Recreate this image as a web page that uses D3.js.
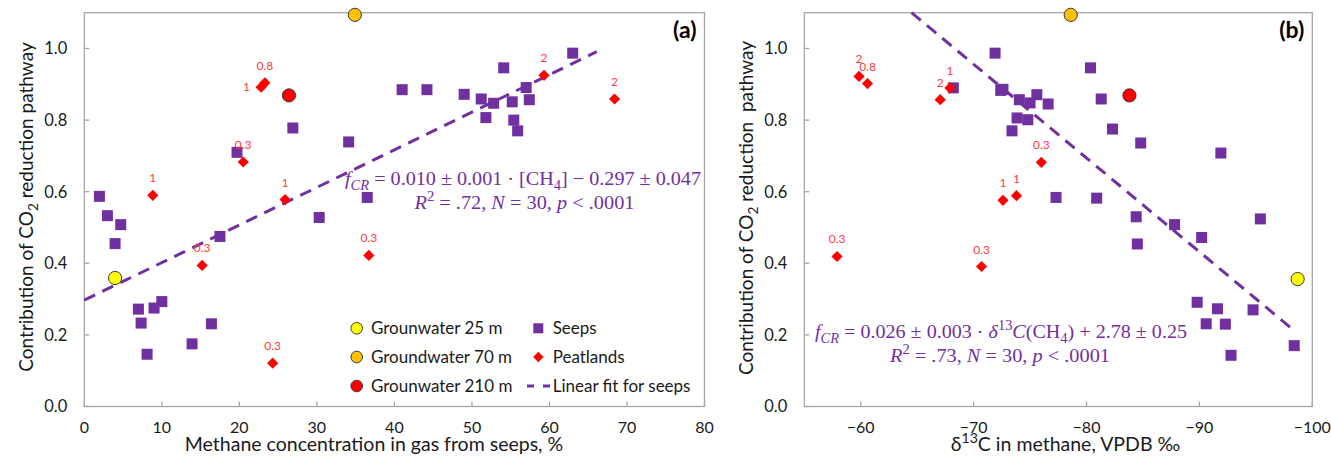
<!DOCTYPE html>
<html><head><meta charset="utf-8">
<script src="https://cdn.jsdelivr.net/npm/d3@7"></script>
<style>body{margin:0;background:#fff}svg{display:block}</style>
</head><body>
<svg id="chart" width="1331" height="458"></svg>
<script>
// ---------- DATA ----------
// Panel (a): methane concentration (%) vs fCR
const seepsConc = [1.95,2.98,4.7,3.97,6.98,9.0,10.0,7.33,8.1,13.9,16.4,17.5,19.7,26.9,30.3,34.1,36.5,41.0,44.2,49.0,51.2,51.8,52.8,54.1,55.2,55.4,55.9,57.0,57.4,63.0];
const seepsFcrA = [0.587,0.533,0.508,0.455,0.272,0.275,0.293,0.233,0.146,0.175,0.231,0.475,0.710,0.778,0.528,0.739,0.584,0.885,0.885,0.872,0.859,0.807,0.847,0.946,0.851,0.800,0.770,0.891,0.857,0.987];
const peatConc = [8.84,15.2,20.5,22.8,23.3,24.3,25.9,36.7,59.3,68.4];
const peatFcrA = [0.590,0.394,0.683,0.892,0.904,0.121,0.578,0.422,0.925,0.859];
const peatLabelsA = ["1","0.3","0.3","1","0.8","0.3","1","0.3","2","2"];
const peatLabelSideA = ["top","top","top","left","top","top","top","top","top","top"];
const gwNames = ["Grounwater 25 m","Groundwater 70 m","Grounwater 210 m"];
const gwColors = ["#FFFF00","#FFC000","#FF0000"];
const gwConc = [3.97,34.9,26.4];
const gwFcrA = [0.359,1.094,0.869];
const fitA = {slope:0.0105, intercept:0.297, from:0, to:66.1};

// Panel (b): δ13C of methane vs fCR
const seepsD13C = [-68.2,-71.9,-72.4,-72.6,-74.05,-75.0,-75.6,-76.6,-73.85,-74.8,-73.4,-80.35,-81.3,-82.3,-84.8,-91.9,-77.3,-80.9,-84.4,-87.8,-95.4,-84.5,-90.2,-89.8,-91.6,-94.75,-90.6,-92.3,-98.4,-92.8];
const seepsFcrB = [0.890,0.987,0.883,0.886,0.857,0.848,0.871,0.845,0.806,0.801,0.770,0.946,0.859,0.775,0.736,0.708,0.584,0.582,0.530,0.508,0.524,0.454,0.472,0.291,0.273,0.270,0.231,0.230,0.170,0.143];
const peatD13C = [-59.85,-60.6,-67.04,-67.9,-72.6,-73.8,-76.0,-57.9,-70.7];
const peatFcrB = [0.922,0.902,0.857,0.890,0.576,0.589,0.682,0.419,0.391];
const peatLabelsB = ["2","0.8","2","1","1","1","0.3","0.3","0.3"];
const gwD13C = [-98.7,-78.6,-83.8];
const gwFcrB = [0.356,1.094,0.869];
const fitB = {slope:0.0262, intercept:2.79, from:-64.5, to:-98.2};

const xTicksA = [0,10,20,30,40,50,60,70,80];
const xTicksB = [-60,-70,-80,-90,-100];
const yTicks = [0,0.2,0.4,0.6,0.8,1.0];

// ---------- STYLE ----------
const PURPLE = "#7030A0", RED = "#FF0000", LABELRED = "#FF3B3B";
const AXIS = "#A6A6A6", TXT = "#1a1a1a";
const SANS = "Lato, 'Open Sans', sans-serif";
const SERIF = "'Liberation Serif', 'DejaVu Serif', serif";

const svg = d3.select("#chart");
const plotTop = 12.7, plotBottom = 406.5;
const y = d3.scaleLinear().domain([0,1.1]).range([plotBottom, plotTop]);

const fmtNum = v => (v<0 ? "\u2212" + Math.abs(v) : String(v));

function rich(sel, segs, base) {
  let cur = 0;
  segs.forEach(s => {
    const target = s.sub ? base*0.28 : s.sup ? -base*0.4 : 0;
    const ts = sel.append("tspan").text(s.t).attr("dy", target - cur);
    if (s.sub || s.sup) ts.attr("font-size", base*0.72);
    if (s.it) ts.attr("font-style", "italic");
    cur = target;
  });
}

function diamond(g, cx, cy, r) {
  return g.append("path").attr("d", `M${cx},${cy-r}L${cx+r},${cy}L${cx},${cy+r}L${cx-r},${cy}Z`);
}

function panel(opt) {
  const g = svg.append("g");
  const x = d3.scaleLinear().domain(opt.xDomain).range([opt.left, opt.right]);
  g.append("rect").attr("x", opt.left).attr("y", plotTop).attr("width", opt.right-opt.left).attr("height", plotBottom-plotTop)
    .attr("fill","none").attr("stroke",AXIS).attr("stroke-width",1.3);
  const xa = g.append("g");
  opt.xTicks.forEach(t => {
    xa.append("line").attr("x1",x(t)).attr("x2",x(t)).attr("y1",plotBottom).attr("y2",plotBottom-5).attr("stroke",AXIS).attr("stroke-width",1.3);
    xa.append("text").attr("x",x(t)).attr("y",433).attr("text-anchor","middle")
      .attr("font-family",SANS).attr("font-size",16).attr("fill",TXT).text(fmtNum(t));
  });
  yTicks.forEach(t => {
    g.append("line").attr("x1",opt.left).attr("x2",opt.left+5).attr("y1",y(t)).attr("y2",y(t)).attr("stroke",AXIS).attr("stroke-width",1.3);
    g.append("text").attr("x",opt.left-17).attr("y",y(t)).attr("dy","0.36em").attr("text-anchor","end")
      .attr("font-family",SANS).attr("font-size",16.5).attr("fill",TXT).text(t.toFixed(1));
  });
  const yt = g.append("text").attr("transform",`translate(${opt.yTitleX},${opt.yTitleY}) rotate(-90)`)
    .attr("text-anchor","middle").attr("font-family",SANS).attr("font-size",19).attr("fill",TXT).attr("xml:space","preserve");
  rich(yt, [{t:"Contribution of CO"},{t:"2",sub:true},{t:opt.yTitleTail}], 19);
  const xt = g.append("text").attr("x",opt.xTitleX).attr("y",451).attr("text-anchor","middle")
    .attr("font-family",SANS).attr("font-size",19.5).attr("fill",TXT);
  rich(xt, opt.xTitle, 19.5);
  g.append("text").attr("x",opt.right-8).attr("y",38).attr("text-anchor","end")
    .attr("font-family",SANS).attr("font-weight","bold").attr("font-size",23).attr("fill","#000").text(opt.letter);
  g.append("line").attr("x1",x(opt.fit.from)).attr("y1",y(opt.fit.intercept+opt.fit.slope*opt.fit.from))
    .attr("x2",x(opt.fit.to)).attr("y2",y(opt.fit.intercept+opt.fit.slope*opt.fit.to))
    .attr("stroke",PURPLE).attr("stroke-width",3).attr("stroke-dasharray","12,8");
  opt.seepsX.forEach((v,i) => {
    g.append("rect").attr("x",x(v)-5.5).attr("y",y(opt.seepsY[i])-5.5).attr("width",11).attr("height",11).attr("fill",PURPLE);
  });
  opt.peatX.forEach((v,i) => {
    const cx = x(v), cy = y(opt.peatY[i]);
    diamond(g, cx, cy, 5.6).attr("fill",RED);
    const side = opt.peatSide ? opt.peatSide[i] : "top";
    g.append("text").attr("x", side==="left" ? cx-11 : cx).attr("y", side==="left" ? cy+4 : cy-13)
      .attr("text-anchor", side==="left" ? "end" : "middle")
      .attr("font-family",SANS).attr("font-size",12).attr("fill",LABELRED).text(opt.peatLabels[i]);
  });
  opt.gwX.forEach((v,i) => {
    g.append("circle").attr("cx",x(v)).attr("cy",y(opt.gwY[i])).attr("r",6.6)
      .attr("fill",gwColors[i]).attr("stroke","#3a3a3a").attr("stroke-width",1);
  });
  opt.eq.forEach((line,k) => {
    const t = g.append("text").attr("x",opt.eqX[k]).attr("y",opt.eqY[k]).attr("text-anchor","middle")
      .attr("font-family",SERIF).attr("font-size",19).attr("fill",PURPLE).attr("xml:space","preserve")
      .attr("textLength",opt.eqLen[k]).attr("lengthAdjust","spacingAndGlyphs");
    rich(t, line, 19);
  });
  return {g, x};
}

panel({
  left:84.3, right:704.5, xDomain:[0,80], xTicks:xTicksA, letter:"(a)",
  yTitleX:33, yTitleY:207, yTitleTail:" reduction pathway",
  xTitleX:374, xTitle:[{t:"Methane concentration in gas from seeps, %"}],
  fit:fitA, seepsX:seepsConc, seepsY:seepsFcrA, peatX:peatConc, peatY:peatFcrA,
  peatLabels:peatLabelsA, peatSide:peatLabelSideA, gwX:gwConc, gwY:gwFcrA,
  eq:[
    [{t:"f",it:true},{t:"CR",it:true,sub:true},{t:" = 0.010 ± 0.001 · [CH"},{t:"4",sub:true},{t:"] − 0.297 ± 0.047"}],
    [{t:"R",it:true},{t:"2",sup:true},{t:" = .72, "},{t:"N",it:true},{t:" = 30, "},{t:"p",it:true},{t:" < .0001"}]
  ],
  eqX:[523,524.5], eqY:[185,209], eqLen:[356,220]
});

panel({
  left:804.3, right:1312.3, xDomain:[-55,-100], xTicks:xTicksB, letter:"(b)",
  yTitleX:753, yTitleY:208, yTitleTail:" reduction  pathway",
  xTitleX:1065.5, xTitle:[{t:"δ"},{t:"13",sup:true},{t:"C in methane, VPDB ‰"}],
  fit:fitB, seepsX:seepsD13C, seepsY:seepsFcrB, peatX:peatD13C, peatY:peatFcrB,
  peatLabels:peatLabelsB, peatSide:null, gwX:gwD13C, gwY:gwFcrB,
  eq:[
    [{t:"f",it:true},{t:"CR",it:true,sub:true},{t:" = 0.026 ± 0.003 · "},{t:"δ",it:true},{t:"13",sup:true},{t:"C",it:true},{t:"(CH"},{t:"4",sub:true},{t:") + 2.78 ± 0.25"}],
    [{t:"R",it:true},{t:"2",sup:true},{t:" = .73, "},{t:"N",it:true},{t:" = 30, "},{t:"p",it:true},{t:" < .0001"}]
  ],
  eqX:[1001,1000], eqY:[338,362], eqLen:[372,220]
});

// ---------- LEGEND (panel a) ----------
const lg = svg.append("g");
const rowsY = [328.3, 357, 386];
const LFS = 17;
gwNames.forEach((n,i) => {
  lg.append("circle").attr("cx",356.7).attr("cy",rowsY[i]).attr("r",5.8)
    .attr("fill",gwColors[i]).attr("stroke","#3a3a3a").attr("stroke-width",1);
  lg.append("text").attr("x",371).attr("y",rowsY[i]).attr("dy","0.36em")
    .attr("font-family",SANS).attr("font-size",LFS).attr("fill",TXT).text(n);
});
lg.append("rect").attr("x",538.3-5).attr("y",rowsY[0]-5).attr("width",10).attr("height",10).attr("fill",PURPLE);
lg.append("text").attr("x",552.7).attr("y",rowsY[0]).attr("dy","0.36em").attr("font-family",SANS).attr("font-size",LFS).attr("fill",TXT).text("Seeps");
diamond(lg, 538.3, rowsY[1], 5.2).attr("fill",RED);
lg.append("text").attr("x",552.7).attr("y",rowsY[1]).attr("dy","0.36em").attr("font-family",SANS).attr("font-size",LFS).attr("fill",TXT).text("Peatlands");
lg.append("line").attr("x1",527).attr("x2",551).attr("y1",rowsY[2]).attr("y2",rowsY[2])
  .attr("stroke",PURPLE).attr("stroke-width",3).attr("stroke-dasharray","7,9");
lg.append("text").attr("x",552.7).attr("y",rowsY[2]).attr("dy","0.36em").attr("font-family",SANS).attr("font-size",LFS).attr("fill",TXT).text("Linear fit for seeps");
</script>
</body></html>
